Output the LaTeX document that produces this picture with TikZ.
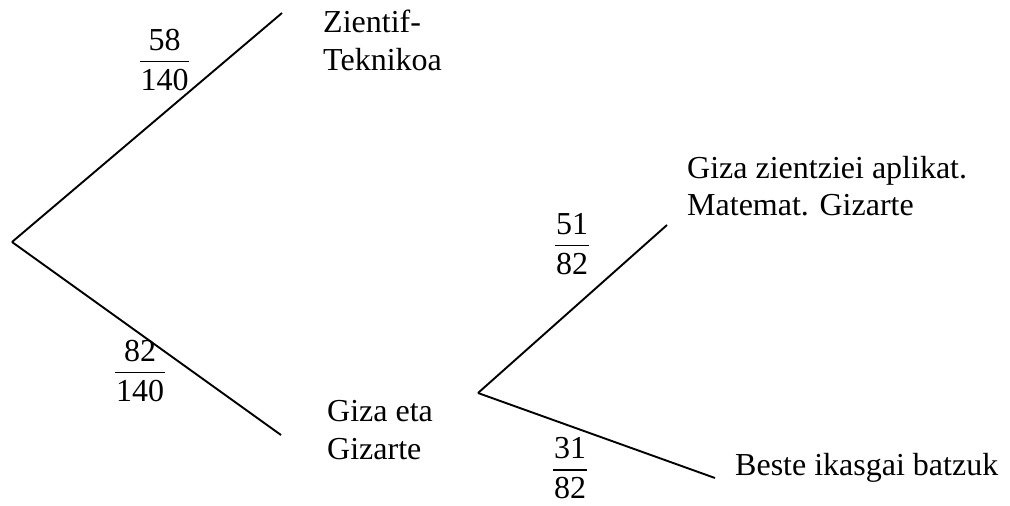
\documentclass[tikz,border=0pt]{standalone}
\usepackage{fontspec}
\setmainfont{Liberation Serif}
\newcommand\myfr[3]{#1\\[-26.25pt]\rule{#3}{1.5pt}\\[-9.75pt]#2}
\begin{document}
\begin{tikzpicture}[x=1pt,y=-1pt,
  branch/.style={line width=1.9pt},
  lbl/.style={inner sep=0pt, font=\fontsize{32}{38}\selectfont, align=left, anchor=north west},
  frac/.style={inner sep=0pt, font=\fontsize{32}{38}\selectfont, align=center, anchor=center}]
\useasboundingbox (0,0) rectangle (1010,506);
% branch points
\coordinate (r) at (12,242);
\coordinate (zt) at (282,13);
\coordinate (gg) at (281,435);
\coordinate (r2) at (478,393);
\coordinate (gz) at (667,225);
\coordinate (bi) at (715,478);
% connectors
\draw[branch] (r) -- (zt);
\draw[branch] (r) -- (gg);
\draw[branch] (r2) -- (gz);
\draw[branch] (r2) -- (bi);
% labels
\node[lbl] (tZ) at (323,10.1) {Zientif-\\Teknikoa};
\node[lbl] (tG) at (327,400) {Giza eta\\Gizarte};
\node[lbl, font=\fontsize{32}{37}\selectfont] (tM) at (687,156.4) {Giza zientziei aplikat.\\Matemat. Gizarte};
\node[lbl, anchor=base west] (tB) at (735,475) {Beste ikasgai batzuk};
% fractions
\node[frac] (f1) at (164.5,60) {\myfr{58}{140}{49pt}};
\node[frac] (f2) at (140,370.9) {\myfr{82}{140}{50pt}};
\node[frac] (f3) at (572,244.2) {\myfr{51}{82}{34pt}};
\node[frac] (f4) at (570,468.5) {\myfr{31}{82}{34pt}};
\end{tikzpicture}
\end{document}
